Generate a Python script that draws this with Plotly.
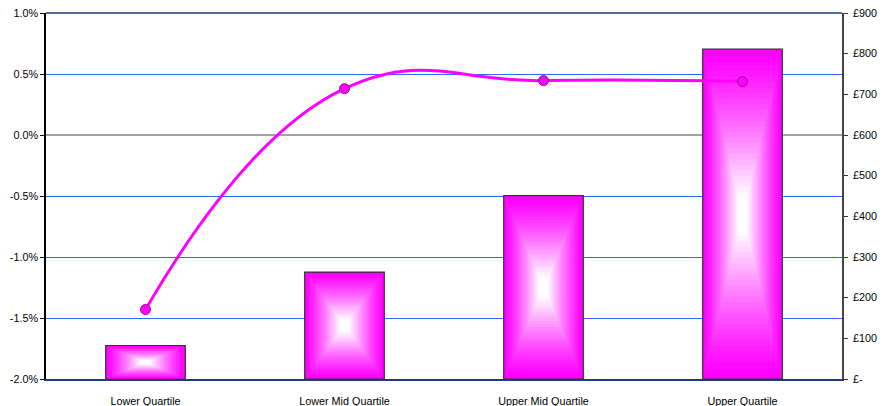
import plotly.graph_objects as go

categories = ["Lower Quartile", "Lower Mid Quartile", "Upper Mid Quartile", "Upper Quartile"]
bar_values = [82, 263, 451, 811]          # £, right axis
line_values = [-1.43, 0.38, 0.446, 0.438]  # %, left axis

pct_ticks = [-2.0, -1.5, -1.0, -0.5, 0.0, 0.5, 1.0]
pct_labels = ["-2.0%", "-1.5%", "-1.0%", "-0.5%", "0.0%", "0.5%", "1.0%"]
gbp_ticks = [0, 100, 200, 300, 400, 500, 600, 700, 800, 900]
gbp_labels = ["£-", "£100", "£200", "£300", "£400", "£500", "£600", "£700", "£800", "£900"]

PCT_RANGE = [-2.0, 1.0]
GBP_RANGE = [0, 900]

def pct_to_gbp(p):
    return round(GBP_RANGE[0] + (p - PCT_RANGE[0]) / (PCT_RANGE[1] - PCT_RANGE[0]) * (GBP_RANGE[1] - GBP_RANGE[0]), 6)

grid_vals = [pct_to_gbp(p) for p in pct_ticks if p not in (0.0, PCT_RANGE[0], PCT_RANGE[1])]

FONT = "Liberation Sans, Arial, sans-serif"
FS = 10.8
BAR_W = 0.4
N_LAYERS = 30

fig = go.Figure()

# Rectangular "from centre" gradient bars: nested bars shrinking toward the centre
for k in range(N_LAYERS):
    t = k / N_LAYERS
    f = min(1.0, t / 0.88) ** 1.25
    g = int(round(255 * f))
    color = f"rgb(255,{g},255)"
    fig.add_trace(go.Bar(
        x=categories,
        y=[v * (1 - t) for v in bar_values],
        base=[v * t / 2 for v in bar_values],
        width=BAR_W * (1 - t),
        marker=dict(color=color,
                    line=dict(color="#333333" if k == 0 else color, width=1.2 if k == 0 else 0)),
        yaxis="y",
        hoverinfo="skip" if k else None,
        showlegend=False,
    ))

fig.add_trace(go.Scatter(
    x=categories, y=line_values, yaxis="y2",
    mode="lines+markers",
    line=dict(color="#FF00FF", width=3, shape="spline", smoothing=1.3),
    marker=dict(size=10, color="#FF00FF", line=dict(color="#8B1A8B", width=1)),
    showlegend=False,
))

fig.update_layout(
    width=890, height=406,
    margin=dict(l=46, r=48, t=13, b=27),
    paper_bgcolor="white", plot_bgcolor="white",
    barmode="overlay",
    bargap=0.6,
    font=dict(family=FONT, size=FS, color="black"),
    xaxis=dict(
        automargin=False,
        showgrid=False, showline=True, linecolor="#1F3A7A", linewidth=1.5,
        ticks="outside", ticklen=11, tickcolor="rgba(0,0,0,0)", tickfont=dict(size=FS),
    ),
    yaxis=dict(
        automargin=False,
        side="right", range=GBP_RANGE, tickvals=gbp_ticks, ticktext=gbp_labels,
        showgrid=False, zeroline=False, showline=True, linecolor="#444444", linewidth=1.5,
        ticks="outside", ticklen=4, tickcolor="#333333", tickfont=dict(size=FS),
        ticklabelstandoff=3,
        minor=dict(tickvals=grid_vals, showgrid=True, gridcolor="#3366FF", gridwidth=1, ticks=""),
    ),
    yaxis2=dict(
        automargin=False,
        overlaying="y", side="left", range=PCT_RANGE,
        tickvals=pct_ticks, ticktext=pct_labels,
        showgrid=False,
        zeroline=False,
        showline=True, linecolor="black", linewidth=1.5,
        ticks="outside", ticklen=4, tickcolor="black", tickfont=dict(size=FS),
    ),
    shapes=[
        dict(type="line", xref="paper", yref="paper", x0=0, x1=1, y0=1, y1=1,
             line=dict(color="#1F3A7A", width=1.5)),
        dict(type="line", xref="paper", yref="y2", x0=0, x1=1, y0=0, y1=0,
             layer="below", line=dict(color="#444444", width=1)),
    ],
)

fig.write_html(
    "out.html",
    config={"displayModeBar": False},
    post_script="document.body.style.margin='0';document.body.style.overflow='hidden';",
)
